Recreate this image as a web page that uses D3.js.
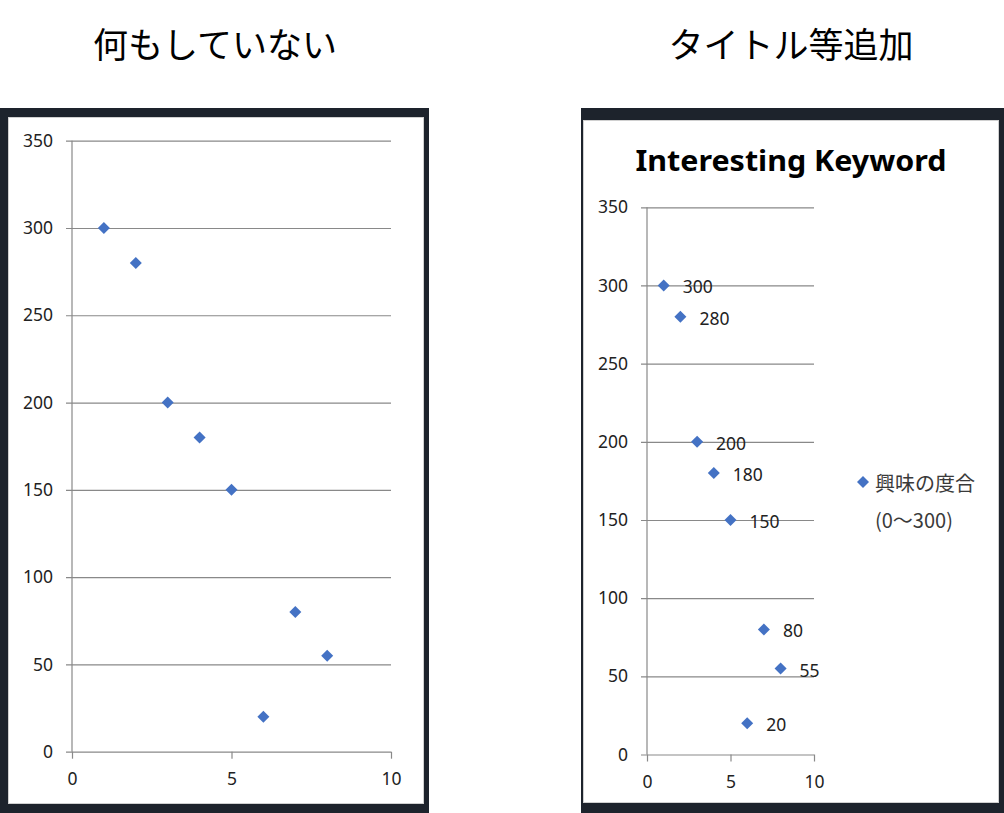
<!DOCTYPE html>
<html><head><meta charset="utf-8">
<script src="https://cdn.jsdelivr.net/npm/d3@7"></script>
<style>
html,body{margin:0;padding:0;background:#fff;}
text{font-family:"Noto Sans","Noto Sans CJK JP",sans-serif;}
</style></head>
<body>
<svg id="c" width="1004" height="813"></svg>
<script>
const xValues = [1, 2, 3, 4, 5, 6, 7, 8];
const yValues = [300, 280, 200, 180, 150, 20, 80, 55];
const xTicks = [0, 5, 10];
const yTicks = [0, 50, 100, 150, 200, 250, 300, 350];
const panelTitles = ["何もしていない", "タイトル等追加"];
const chartTitle = "Interesting Keyword";
const legendLines = ["興味の度合", "(0〜300)"];

const svg = d3.select("#c");
const blue = "#4472C4";
const grid = "#898989";
const diamond = d3.symbol().type(d3.symbolDiamond2);
const markerSize = 92;

const panels = [
  {title: panelTitles[0], tx: 215, frame: [0, 108, 429, 813], inner: [8, 117, 424, 804],
   x0: 72, x1: 391, y0: 751.7, y1: 140.7, labels: false},
  {title: panelTitles[1], tx: 791, frame: [581, 108, 1004, 813], inner: [583, 120, 999, 803],
   x0: 647, x1: 814, y0: 754.5, y1: 207.3, labels: true}
];

panels.forEach(p => {
  svg.append("text").attr("x", p.tx).attr("y", 42).attr("text-anchor", "middle")
    .attr("dominant-baseline", "central")
    .style("font-family", '"Noto Sans CJK JP",sans-serif').style("font-size", "35px").attr("fill", "#000")
    .text(p.title);
  svg.append("rect").attr("x", p.frame[0]).attr("y", p.frame[1])
    .attr("width", p.frame[2] - p.frame[0]).attr("height", p.frame[3] - p.frame[1]).attr("fill", "#1d232c");
  svg.append("rect").attr("x", p.inner[0] + 0.5).attr("y", p.inner[1] + 0.5)
    .attr("width", p.inner[2] - p.inner[0] - 1).attr("height", p.inner[3] - p.inner[1] - 1)
    .attr("fill", "#fff").attr("stroke", "#d0d0d0");

  const x = d3.scaleLinear().domain([0, 10]).range([p.x0, p.x1]);
  const y = d3.scaleLinear().domain([0, 350]).range([p.y0, p.y1]);
  const w = p.x1 - p.x0;

  const gy = svg.append("g").attr("transform", `translate(${p.x0},0)`)
    .call(d3.axisLeft(y).tickValues(yTicks).tickSize(-w).tickPadding(19));
  gy.select(".domain").remove();
  gy.selectAll(".tick line").attr("x1", -6).attr("x2", w).attr("stroke", grid).attr("stroke-width", 1.2);
  gy.selectAll(".tick text").style("font-size", "17.5px").attr("fill", "#222").style("font-family", '"Noto Sans",sans-serif');

  svg.append("line").attr("x1", p.x0).attr("x2", p.x0).attr("y1", p.y1).attr("y2", p.y0)
    .attr("stroke", grid).attr("stroke-width", 1.2);

  const gx = svg.append("g").attr("transform", `translate(0,${p.y0})`)
    .call(d3.axisBottom(x).tickValues(xTicks).tickSize(7).tickPadding(14));
  gx.select(".domain").remove();
  gx.selectAll(".tick line").attr("stroke", grid).attr("stroke-width", 1.2);
  gx.selectAll(".tick text").style("font-size", "17.5px").attr("fill", "#222").style("font-family", '"Noto Sans",sans-serif');

  const pts = xValues.map((v, i) => ({x: v, y: yValues[i]}));
  svg.append("g").selectAll("path").data(pts).join("path")
    .attr("d", diamond.size(markerSize))
    .attr("transform", d => `translate(${x(d.x)},${y(d.y)})`)
    .attr("fill", blue);

  if (p.labels) {
    svg.append("g").selectAll("text").data(pts).join("text")
      .attr("x", d => x(d.x) + 19).attr("y", d => y(d.y) + 1)
      .attr("dominant-baseline", "central")
      .style("font-size", "17.5px").attr("fill", "#222")
      .text(d => d.y);

    svg.append("text").attr("x", 791).attr("y", 160).attr("text-anchor", "middle")
      .attr("dominant-baseline", "central")
      .style("font-size", "28px").style("font-weight", "bold").attr("fill", "#000")
      .attr("textLength", 311).attr("lengthAdjust", "spacingAndGlyphs")
      .text(chartTitle);

    svg.append("path").attr("d", diamond.size(markerSize))
      .attr("transform", "translate(863,482)").attr("fill", blue);
    svg.append("g").selectAll("text").data(legendLines).join("text")
      .attr("x", 875).attr("y", (d, i) => 482 + i * 37)
      .attr("dominant-baseline", "central")
      .style("font-family", '"Noto Sans CJK JP",sans-serif')
      .style("font-size", "20px").attr("fill", "#3a3a3a")
      .text(d => d);
  }
});
</script>
</body></html>
